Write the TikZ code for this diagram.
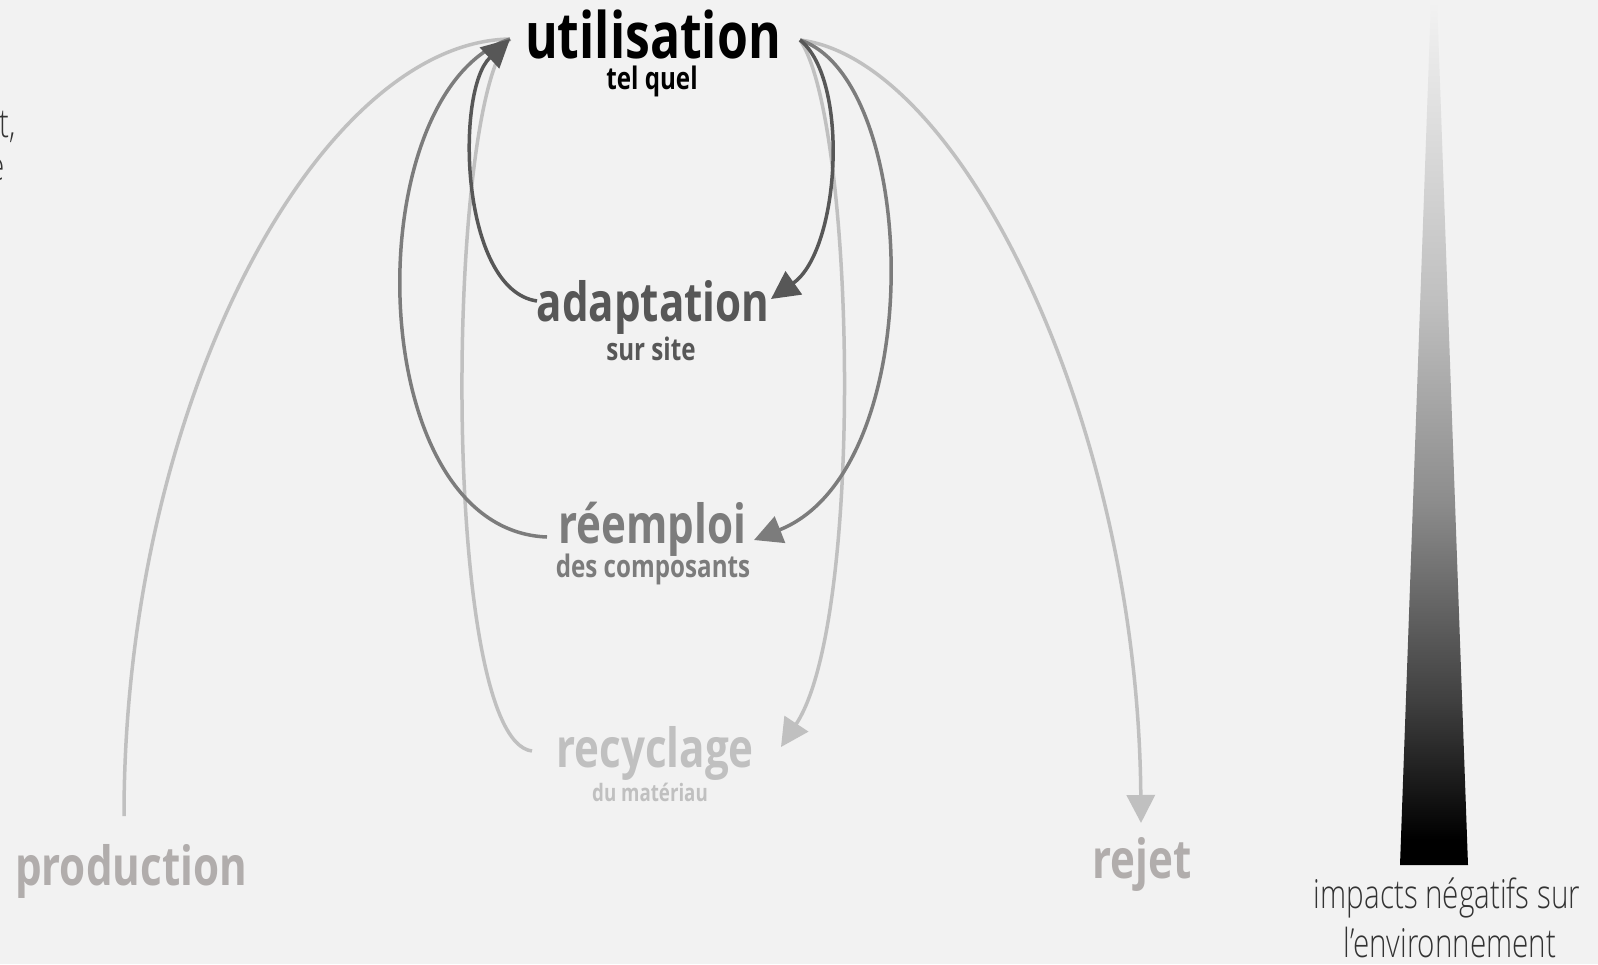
\documentclass[tikz,border=0pt]{standalone}
\usepackage{fontspec}
\newfontfamily\cond[FakeStretch=0.78]{Open Sans}
\newfontfamily\condl[FakeStretch=0.74]{Open Sans Light}
\usetikzlibrary{arrows.meta}
\definecolor{bg}{HTML}{F2F2F2}
\definecolor{cLight}{HTML}{C0C0C0}
\definecolor{cMed}{HTML}{7C7C7C}
\definecolor{cDark}{HTML}{575757}
\definecolor{cWarm}{HTML}{B1ADAC}
\definecolor{cText}{HTML}{333333}
\pgfdeclareverticalshading{impact}{100bp}{color(0bp)=(black); color(26.5bp)=(black); color(34.5bp)=(black!75); color(46bp)=(black!45); color(57.5bp)=(black!25); color(75bp)=(black!5); color(100bp)=(black!5)}
\tikzset{
  lbl/.style={inner sep=0pt, anchor=base},
  big/.style={lbl, font={\cond\bfseries\fontsize{54}{58}\selectfont}},
  sub/.style={lbl, font={\cond\bfseries\fontsize{31}{34}\selectfont}},
  lite/.style={lbl, text=cText, font={\condl\fontsize{40}{44}\selectfont}},
  conn/.style={line width=3.5pt},
  tip/.style={-{Triangle[length=28pt,width=28pt]}}
}
\begin{document}
\begin{tikzpicture}[x=1pt,y=-1pt]
\fill[bg] (0,0) rectangle (1598,964);
\useasboundingbox (0,0) rectangle (1598,964);

% gradient wedge
\shade[shading=impact] (1431,0) -- (1437,0) -- (1468,865) -- (1400,865) -- cycle;

% labels
\node[lbl, text=black, font={\cond\bfseries\fontsize{64}{70}\selectfont}] (util) at (653,58) {utilisation};
\node[sub, text=black] (tel) at (652,89) {tel quel};
\node[big, text=cDark] (adapt) at (653,321) {adaptation};
\node[sub, text=cDark] (sur) at (651,360) {sur site};
\node[big, text=cMed] (reemp) at (652,543) {réemploi};
\node[sub, text=cMed] (des) at (653,577) {des composants};
\node[big, text=cLight] (recyc) at (655,767) {recyclage};
\node[sub, text=cLight, font={\cond\bfseries\fontsize{24}{28}\selectfont}] (du) at (650,801) {du matériau};
\node[big, text=cWarm] (prod) at (131,885) {production};
\node[big, text=cWarm] (rejet) at (1142,878) {rejet};
\node[lite] (imp1) at (1447,908) {impacts négatifs sur};
\node[lite] (imp2) at (1450,957) {l’environnement};
\node[lite, anchor=base east] (tl1) at (16,137) {t,};
\node[lite, anchor=base east] (tl2) at (5,180) {e};

% connector ends
\coordinate (uL) at (510,39);
\coordinate (uR) at (800,40);
\coordinate (aL) at (537,301);
\coordinate (aR) at (771,299);
\coordinate (rL) at (547,537);
\coordinate (rR) at (754,540);
\coordinate (cL) at (532,751);
\coordinate (cR) at (781,747);
\coordinate (pT) at (124,816);
\coordinate (jT) at (1141,823);

% light curves
\draw[conn, cLight] (pT) .. controls (124,400) and (320,42) .. (uL);
\draw[conn, cLight, tip] (uR) .. controls (960,60) and (1138,420) .. (jT);
\draw[conn, cLight] (cL) .. controls (440,740) and (445,100) .. (uL);
\draw[conn, cLight, tip] (uR) .. controls (855,120) and (865,620) .. (cR);
% medium curves
\draw[conn, cMed] (rL) .. controls (360,530) and (355,90) .. (uL);
\draw[conn, cMed, tip] (uR) .. controls (920,80) and (930,470) .. (rR);
% dark curves
\draw[conn, cDark, tip] (aL) .. controls (460,290) and (455,90) .. (uL);
\draw[conn, cDark, tip] (uR) .. controls (850,80) and (840,250) .. (aR);
\end{tikzpicture}
\end{document}
